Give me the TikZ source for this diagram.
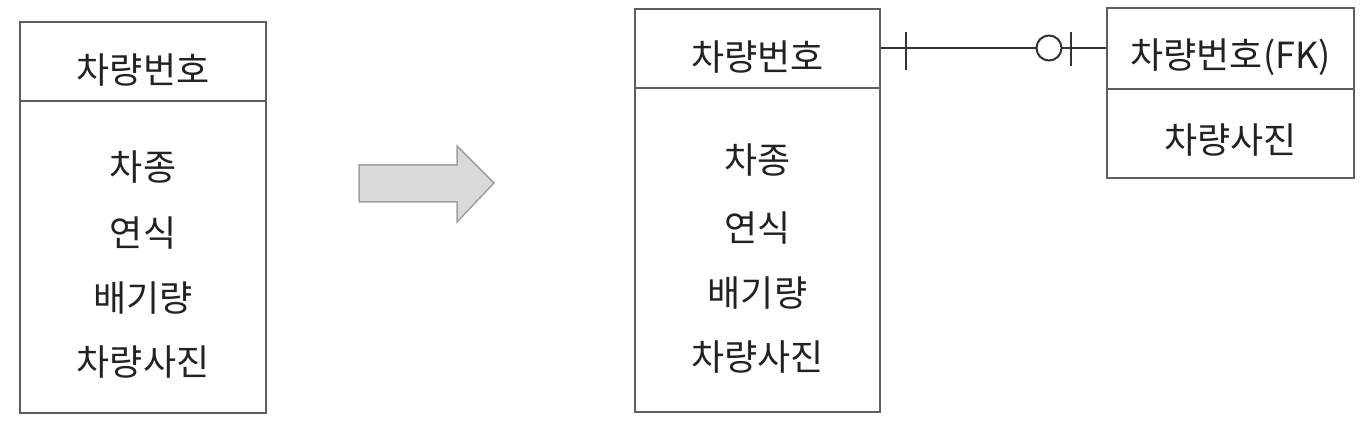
\documentclass[tikz,border=0pt]{standalone}
\usepackage{fontspec}
\setmainfont{Noto Sans CJK KR}
\definecolor{boxgray}{HTML}{5E5E5E}
\definecolor{txt}{HTML}{222222}
\definecolor{linec}{HTML}{333333}
\definecolor{arrfill}{HTML}{D9D9D9}
\definecolor{arrdraw}{HTML}{A0A0A0}
\begin{document}
\begin{tikzpicture}[x=1pt,y=-1pt,
  box/.style={draw=boxgray,line width=2.4pt,inner sep=0pt,rectangle},
  lbl/.style={font=\fontsize{36}{42}\selectfont,text=txt,inner sep=0pt},
  conn/.style={draw=linec,line width=2pt}]
\useasboundingbox (0,0) rectangle (1371,427);
% left entity
\node[box,minimum width=246pt,minimum height=79pt] (lt) at (143,61.5) {};
\node[box,minimum width=246pt,minimum height=312pt] (lb) at (143,257) {};
\node[lbl] (lt1) at (143,70) {차량번호};
\node[lbl] (lb1) at (143,167) {차종};
\node[lbl] (lb2) at (143,233) {연식};
\node[lbl] (lb3) at (143,298) {배기량};
\node[lbl] (lb4) at (143,362) {차량사진};
% transform arrow
\draw[fill=arrfill,draw=arrdraw,line width=1.5pt,line join=miter]
  (359,165) -- (457,165) -- (457,146) -- (494,183) -- (457,222) -- (457,202) -- (359,202) -- cycle;
% middle entity
\node[box,minimum width=245pt,minimum height=79pt] (mt) at (757.5,48.5) {};
\node[box,minimum width=245pt,minimum height=324pt] (mb) at (757.5,250) {};
\node[lbl] (mt1) at (757.5,57) {차량번호};
\node[lbl] (mb1) at (757.5,160) {차종};
\node[lbl] (mb2) at (757.5,228) {연식};
\node[lbl] (mb3) at (757.5,293) {배기량};
\node[lbl] (mb4) at (757.5,357) {차량사진};
% right entity
\node[box,minimum width=247pt,minimum height=81pt] (rt) at (1230.5,48.5) {};
\node[box,minimum width=247pt,minimum height=89pt] (rb) at (1230.5,133.5) {};
\node[lbl] (rt1) at (1230.5,57) {차량번호(FK)};
\node[lbl] (rb1) at (1230.5,140) {차량사진};
% relationship
\draw[conn] (mt.east) -- (rt.west);
\coordinate (b1t) at (906,32);
\coordinate (b1b) at (906,70);
\draw[conn] (b1t) -- (b1b);
\node[circle,draw=linec,line width=2pt,fill=white,minimum size=25pt,inner sep=0pt] (oc) at (1049,48) {};
\coordinate (b2t) at (1071,32);
\coordinate (b2b) at (1071,66);
\draw[conn] (b2t) -- (b2b);
\end{tikzpicture}
\end{document}
